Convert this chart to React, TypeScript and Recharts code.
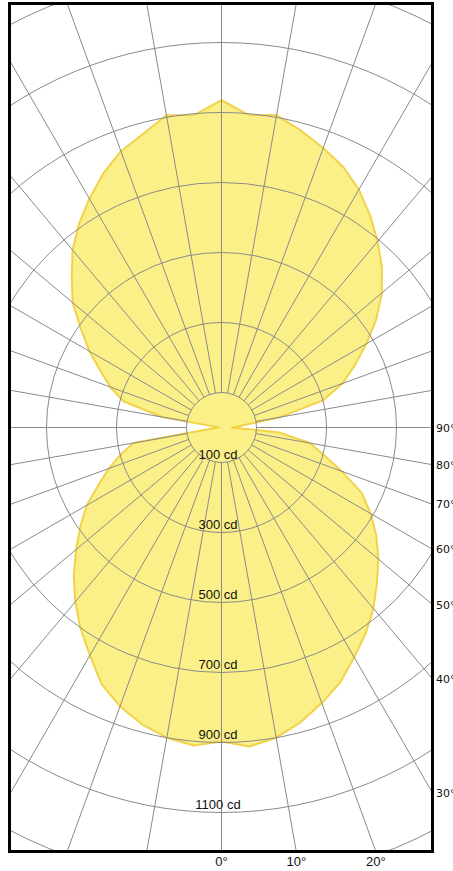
import React from 'react';
import { RadarChart, Radar, PolarGrid, PolarAngleAxis, PolarRadiusAxis } from 'recharts';

// gamma angle in degrees: 0° points straight down, counting round through the right side
const gammaAngles = [
  0, 5, 10, 15, 20, 25, 30, 35, 40, 45, 50, 55, 60, 65, 70, 75, 80, 85,
  90, 95, 100, 105, 110, 115, 120, 125, 130, 135, 140, 145, 150, 155, 160, 165,
  170, 175, 180, 185, 190, 195, 200, 205, 210, 215, 220, 225, 230, 235, 240, 245,
  250, 255, 260, 265, 270, 275, 280, 285, 290, 295, 300, 305, 310, 315, 320, 325,
  330, 335, 340, 345, 350, 355,
];

// luminous intensity (cd), one per gamma angle
const intensityCd = [
  897, 915, 900, 872, 838, 803, 758, 718, 675, 628, 585, 540, 492, 442, 365, 302, 256, 165,
  30, 55, 170, 300, 368, 420, 478, 540, 598, 648, 694, 740, 785, 822, 850, 878,
  906, 896, 935, 896, 906, 868, 840, 800, 755, 710, 662, 605, 555, 490, 436, 381,
  338, 290, 172, 12, 8, 23, 255, 298, 342, 388, 445, 492, 542, 597, 650, 702,
  752, 810, 848, 878, 900, 912,
];

const radialTicks = [100, 300, 500, 700, 900, 1100, 1300];
const spokeAngles = [
  0, 10, 20, 30, 40, 50, 60, 70, 80, 90, 100, 110, 120, 130, 140, 150, 160, 170,
  180, 190, 200, 210, 220, 230, 240, 250, 260, 270, 280, 290, 300, 310, 320, 330, 340, 350,
];
const labelledAngles = [0, 10, 20, 30, 40, 50, 60, 70, 80, 90];

const data = gammaAngles.map((angle, i) => ({ angle, cd: intensityCd[i] }));

const W = 453;
const H = 871;
const CX = 221.5;
const CY = 427.5;
const FRAME = { left: 8, top: 2, right: 434, bottom: 853, border: 3 };
const PX_PER_CD = 0.35;
const CD_MIN = 100; // innermost ring, spokes start here
const CD_MAX = 1400;

const gridColor = '#8a8a8a';

const CdTick = (props: any) => {
  const { x, y, payload } = props;
  // rings whose label would sit outside the frame get no label
  if (y - 4 > FRAME.bottom) return <g />;
  return (
    <text
      x={x - 3.5}
      y={y - 4}
      textAnchor="middle"
      fontFamily="'Liberation Sans', Arial, sans-serif"
      fontSize={13}
      fill="#111"
    >
      {payload.value} cd
    </text>
  );
};

// where a spoke leaves the frame (right or bottom edge)
function frameExit(g: number) {
  const rad = (g * Math.PI) / 180;
  const dx = Math.sin(rad);
  const dy = Math.cos(rad);
  const edgeR = FRAME.right - FRAME.border / 2;
  const edgeB = FRAME.bottom - FRAME.border / 2;
  const tR = dx > 1e-6 ? (edgeR - CX) / dx : Infinity;
  const tB = dy > 1e-6 ? (edgeB - CY) / dy : Infinity;
  if (tB <= tR) return { side: 'bottom', x: CX + tB * dx, y: edgeB };
  return { side: 'right', x: edgeR, y: CY + tR * dy };
}

export default function App() {
  return (
    <div
      style={{
        position: 'absolute',
        left: 0,
        top: 0,
        width: W,
        height: H,
        overflow: 'hidden',
        background: '#fff',
      }}
    >
      <div
        style={{
          position: 'absolute',
          left: FRAME.left,
          top: FRAME.top,
          width: FRAME.right - FRAME.left,
          height: FRAME.bottom - FRAME.top,
          border: `${FRAME.border}px solid #000`,
          boxSizing: 'border-box',
          overflow: 'hidden',
        }}
      >
        <div style={{ position: 'absolute', left: -(FRAME.left + FRAME.border), top: -(FRAME.top + FRAME.border) }}>
          <RadarChart
            width={W}
            height={H}
            data={data}
            cx={CX}
            cy={CY}
            innerRadius={CD_MIN * PX_PER_CD}
            outerRadius={CD_MAX * PX_PER_CD}
            startAngle={-90}
            endAngle={270}
            margin={{ top: 0, right: 0, bottom: 0, left: 0 }}
          >
            <PolarAngleAxis
              dataKey="angle"
              type="number"
              domain={[0, 360]}
              ticks={spokeAngles}
              allowDataOverflow
              tick={false}
              tickLine={false}
              axisLine={false}
            />
            <Radar
              dataKey="cd"
              stroke="#f2d247"
              strokeWidth={2}
              strokeLinejoin="round"
              fill="#fbf088"
              fillOpacity={1}
              dot={false}
              isAnimationActive={false}
              zIndex={100}
            />
            <PolarGrid gridType="circle" stroke={gridColor} strokeWidth={1} zIndex={300} />
            <PolarRadiusAxis
              type="number"
              domain={[CD_MIN, CD_MAX]}
              ticks={radialTicks}
              allowDataOverflow
              angle={-90}
              axisLine={false}
              tickLine={false}
              tick={CdTick}
              zIndex={600}
            />
          </RadarChart>
        </div>
      </div>
      {labelledAngles.map((g) => {
        const p = frameExit(g);
        if (p.side === 'bottom') {
          return (
            <span
              key={g}
              style={{
                position: 'absolute',
                left: p.x,
                top: 855,
                transform: 'translateX(-50%)',
                fontFamily: "'Liberation Sans', Arial, sans-serif",
                fontSize: 13,
                lineHeight: '14px',
                color: '#111',
                whiteSpace: 'nowrap',
              }}
            >
              {g}°
            </span>
          );
        }
        return (
          <span
            key={g}
            style={{
              position: 'absolute',
              left: 436,
              top: p.y,
              transform: 'translateY(-50%)',
              fontFamily: "'DejaVu Sans', sans-serif",
              fontSize: 11,
              lineHeight: '13px',
              color: '#111',
              whiteSpace: 'nowrap',
            }}
          >
            {g}°
          </span>
        );
      })}
    </div>
  );
}
